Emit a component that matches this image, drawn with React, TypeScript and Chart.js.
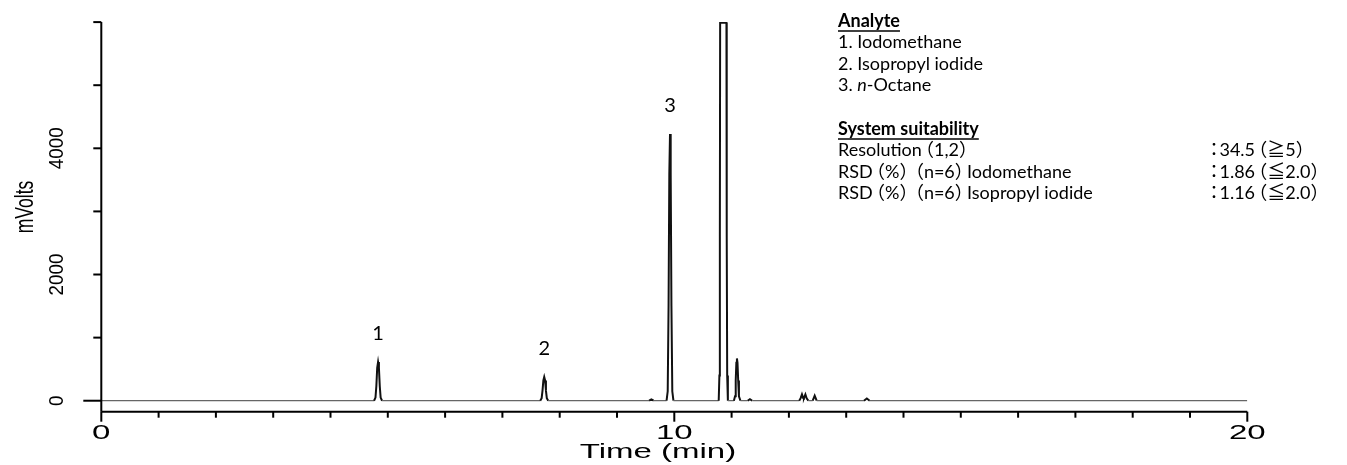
import React, { useEffect, useRef } from 'react';
import { Chart, registerables } from 'chart.js';

Chart.register(...registerables);

// ---- Chromatogram trace (time in min, signal in mV) ----
const TRACE_TIME = [
  0,
  4.76, 4.785, 4.8, 4.815, 4.83, 4.845, 4.86, 4.875, 4.9,
  7.66, 7.685, 7.7, 7.715, 7.73, 7.745, 7.76, 7.775, 7.8,
  9.56, 9.6, 9.64,
  9.865, 9.885, 9.9, 9.913, 9.925, 9.937, 9.95, 9.965, 9.985,
  10.775, 10.787, 10.795, 10.8, 10.91, 10.915, 10.923, 10.935,
  11.04, 11.06, 11.072, 11.083, 11.093, 11.103, 11.115, 11.128, 11.155,
  11.28, 11.32, 11.36,
  12.18, 12.205, 12.228, 12.248, 12.262, 12.288, 12.31, 12.34,
  12.415, 12.45, 12.485,
  13.31, 13.36, 13.41,
  20,
];
const TRACE_MV = [
  0,
  0, 50, 230, 520, 613, 520, 230, 50, 0,
  0, 40, 160, 320, 376, 320, 160, 40, 0,
  0, 20, 0,
  0, 150, 1500, 3600, 4226, 3600, 1500, 150, 0,
  0, 400, 2600, 5990, 5990, 2600, 400, 0,
  0, 70, 320, 600, 670, 600, 320, 70, 0,
  0, 25, 0,
  0, 40, 100, 45, 40, 100, 40, 0,
  0, 80, 0,
  0, 35, 0,
  0,
];

// ---- Peak labels ----
const PEAK_NAMES = ['1', '2', '3'];
const PEAK_TIME = [4.83, 7.73, 9.925];
const PEAK_MV = [613, 376, 4226];

// ---- Axes ----
const X_MIN = 0;
const X_MAX = 20;
const X_TICKS = [0, 1, 2, 3, 4, 5, 6, 7, 8, 9, 10, 11, 12, 13, 14, 15, 16, 17, 18, 19, 20];
const X_LABELED = [0, 10, 20];
const X_TITLE = 'Time (min)';
const Y_MIN = -174;
const Y_MAX = 6000;
const Y_TICKS = [0, 1000, 2000, 3000, 4000, 5000, 6000];
const Y_LABELED = [0, 2000, 4000];
const Y_TITLE = 'mVolts';

// ---- Annotation block ----
const ANALYTE_TITLE = 'Analyte';
const ANALYTE_PREFIX = ['1. ', '2. ', '3. '];
const ANALYTE_ITALIC = ['', '', 'n'];
const ANALYTE_NAME = ['Iodomethane', 'Isopropyl iodide', '-Octane'];
const SUIT_TITLE = 'System suitability';
const SUIT_NAMES = ['Resolution（1,2）', 'RSD（%）（n=6）Iodomethane', 'RSD（%）（n=6）Isopropyl iodide'];
const SUIT_VALUES = ['：34.5（≧5）', '：1.86（≦2.0）', '：1.16（≦2.0）'];

const TEXT_FONT = 'Lato, "Noto Sans CJK JP", sans-serif';
const AXIS_FONT = '"Liberation Sans", Arial, sans-serif';
const TEXT_PX = 18;

function drawText(
  ctx: CanvasRenderingContext2D,
  text: string,
  x: number,
  y: number,
  font: string,
  sx: number,
  rot: number,
  align: CanvasTextAlign,
) {
  ctx.save();
  ctx.translate(x, y);
  if (rot) ctx.rotate(rot);
  ctx.scale(sx, 1);
  ctx.font = font;
  ctx.textAlign = align;
  ctx.textBaseline = 'middle';
  ctx.fillStyle = '#000';
  ctx.fillText(text, 0, 0);
  ctx.restore();
}

// tighter spacing for full-width punctuation
const PALT: Record<string, [number, number]> = {
  '（': [-0.32, 0.68],
  '）': [0, 0.68],
  '：': [-0.22, 0.58],
};

function drawRich(ctx: CanvasRenderingContext2D, text: string, x: number, y: number, font: string, px: number) {
  ctx.save();
  ctx.font = font;
  ctx.textAlign = 'left';
  ctx.textBaseline = 'middle';
  ctx.fillStyle = '#000';
  let cx = x;
  let run = '';
  const flush = () => {
    if (run) {
      ctx.fillText(run, cx, y);
      cx += ctx.measureText(run).width;
      run = '';
    }
  };
  for (const ch of text) {
    const p = PALT[ch];
    if (p) {
      flush();
      ctx.fillText(ch, cx + p[0] * px, y);
      cx += p[1] * px;
    } else {
      run += ch;
    }
  }
  flush();
  ctx.restore();
  return cx;
}

const overlayPlugin = {
  id: 'overlay',
  afterDraw(chart: any) {
    const { ctx, chartArea, scales } = chart;
    const xs = scales.x;
    const ys = scales.y;
    ctx.save();
    ctx.strokeStyle = '#000';
    ctx.lineWidth = 2;
    const x0 = xs.getPixelForValue(X_MIN);
    const x1 = xs.getPixelForValue(X_MAX);
    const yTop = ys.getPixelForValue(Y_MAX);
    const yBot = chartArea.bottom;
    const seg = (a: number, b: number, c: number, d: number) => {
      ctx.beginPath();
      ctx.moveTo(a, b);
      ctx.lineTo(c, d);
      ctx.stroke();
    };
    // axis lines
    seg(x0, yTop, x0, yBot);
    seg(x0, yBot, x1, yBot);
    // x ticks
    X_TICKS.forEach((v) => {
      const px = xs.getPixelForValue(v);
      const len = X_LABELED.includes(v) ? 10 : 6;
      seg(px, yBot, px, yBot + len);
    });
    // y ticks
    Y_TICKS.forEach((v) => {
      const py = ys.getPixelForValue(v);
      const len = v === 0 ? 18 : 8;
      seg(x0 - len, py, x0, py);
    });
    // x labels
    X_LABELED.forEach((v) => {
      drawText(ctx, String(v), xs.getPixelForValue(v), yBot + 22, `20px ${AXIS_FONT}`, 1.65, 0, 'center');
    });
    drawText(ctx, X_TITLE, 658, yBot + 41, `20px ${AXIS_FONT}`, 1.65, 0, 'center');
    // y labels
    Y_LABELED.forEach((v) => {
      drawText(ctx, String(v), x0 - 44, ys.getPixelForValue(v), `20px ${AXIS_FONT}`, 0.94, -Math.PI / 2, 'center');
    });
    drawText(ctx, Y_TITLE, 26, 207, `25px ${AXIS_FONT}`, 0.7, -Math.PI / 2, 'center');

    // peak labels
    PEAK_NAMES.forEach((n, i) => {
      drawText(ctx, n, xs.getPixelForValue(PEAK_TIME[i]), ys.getPixelForValue(PEAK_MV[i]) - 28, `20px ${TEXT_FONT}`, 1, 0, 'center');
    });

    // annotation block
    const L = 838;
    const lh = 21.5;
    const boldF = `bold ${TEXT_PX}px ${TEXT_FONT}`;
    const normF = `${TEXT_PX}px ${TEXT_FONT}`;
    const italF = `italic ${TEXT_PX}px ${TEXT_FONT}`;
    const underline = (text: string, font: string, x: number, y: number) => {
      ctx.font = font;
      const w = ctx.measureText(text).width;
      ctx.lineWidth = 1.5;
      seg(x, y + 10, x + w, y + 10);
    };
    drawText(ctx, ANALYTE_TITLE, L, 21, boldF, 1, 0, 'left');
    underline(ANALYTE_TITLE, boldF, L, 21);
    ANALYTE_PREFIX.forEach((p, i) => {
      const y = 21 + lh * (i + 1);
      let x = L;
      ctx.font = normF;
      drawText(ctx, p, x, y, normF, 1, 0, 'left');
      x += ctx.measureText(p).width;
      if (ANALYTE_ITALIC[i]) {
        drawText(ctx, ANALYTE_ITALIC[i], x, y, italF, 1, 0, 'left');
        ctx.font = italF;
        x += ctx.measureText(ANALYTE_ITALIC[i]).width;
      }
      drawText(ctx, ANALYTE_NAME[i], x, y, normF, 1, 0, 'left');
    });
    drawText(ctx, SUIT_TITLE, L, 129, boldF, 1, 0, 'left');
    underline(SUIT_TITLE, boldF, L, 129);
    SUIT_NAMES.forEach((s, i) => {
      const y = 129 + lh * (i + 1);
      drawRich(ctx, s, L, y, normF, TEXT_PX);
      drawRich(ctx, SUIT_VALUES[i], 1209, y, normF, TEXT_PX);
    });
    ctx.restore();
  },
};

const PEAK_THRESHOLD = 15;

export default function App() {
  const ref = useRef<HTMLCanvasElement>(null);
  useEffect(() => {
    if (!ref.current) return;
    const points = TRACE_TIME.map((t, i) => ({ x: t, y: TRACE_MV[i] }));
    const onPeak = (c: any) => c.p0.parsed.y > PEAK_THRESHOLD || c.p1.parsed.y > PEAK_THRESHOLD;
    const chart = new Chart(ref.current, {
      type: 'line',
      data: {
        datasets: [
          {
            data: points,
            borderColor: '#666',
            borderWidth: 1.3,
            pointRadius: 0,
            tension: 0,
            fill: false,
            segment: {
              borderColor: (c: any) => (onPeak(c) ? '#111' : '#666'),
              borderWidth: (c: any) => (onPeak(c) ? 2 : 1.3),
            },
          },
        ],
      },
      options: {
        animation: false,
        responsive: true,
        maintainAspectRatio: false,
        layout: { padding: { left: 101.3, right: 99.7, top: 22.1, bottom: 53.3 } },
        plugins: { legend: { display: false }, tooltip: { enabled: false } },
        scales: {
          x: { type: 'linear', min: X_MIN, max: X_MAX, display: false },
          y: { type: 'linear', min: Y_MIN, max: Y_MAX, display: false },
        },
      },
      plugins: [overlayPlugin],
    } as any);
    return () => chart.destroy();
  }, []);
  return (
    <div style={{ position: 'absolute', left: 0, top: 0, width: 1347, height: 465, background: '#fff' }}>
      <canvas ref={ref} />
    </div>
  );
}
